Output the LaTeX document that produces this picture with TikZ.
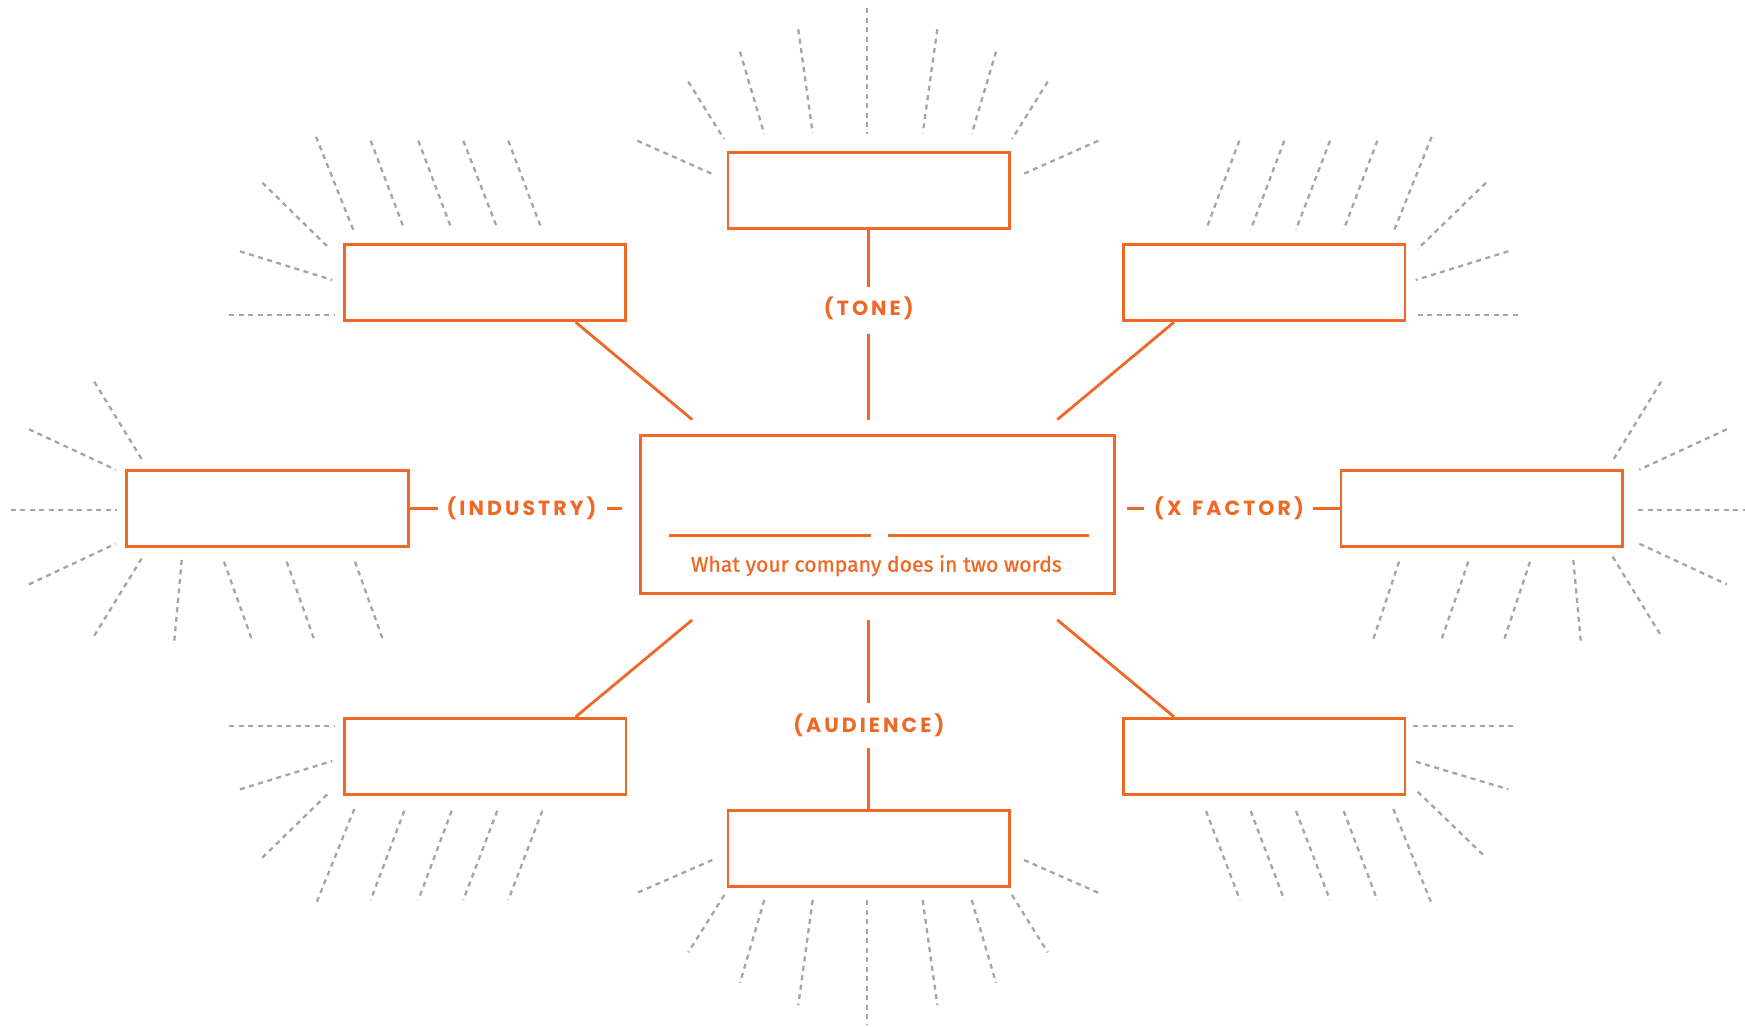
\documentclass[tikz,border=0pt]{standalone}
\usepackage{fontspec}
\setmainfont{Fira Sans}
\newfontfamily\lblfont{Poppins}[LetterSpace=15]
\newfontfamily\capfont{Fira Sans}[FakeBold=0.9]
\definecolor{brandorange}{RGB}{240,104,38}
\definecolor{raygray}{RGB}{165,165,165}
\begin{document}
\begin{tikzpicture}[x=1pt,y=-1pt,
  slot/.style={draw=brandorange,line width=2.8pt,minimum width=281.5pt,minimum height=76pt,inner sep=0pt},
  hub/.style={draw=brandorange,line width=2.8pt,minimum width=474pt,minimum height=158pt,inner sep=0pt},
  link/.style={draw=brandorange,line width=2.8pt},
  ray/.style={draw=raygray,line width=2.3pt,dash pattern=on 5pt off 4.5pt},
  lbl/.style={text=brandorange,font=\lblfont\bfseries\fontsize{20.5}{24}\selectfont,inner sep=0pt},
  captext/.style={text=brandorange,font=\capfont\fontsize{21.2}{25}\selectfont,inner sep=0pt}]
\useasboundingbox (0,0) rectangle (1745,1026);
\fill[white] (0,0) rectangle (1745,1026);

% boxes
\node[slot] (tone) at (868.8,190.2) {};
\node[slot] (ul) at (485,282.8) {};
\node[slot] (ur) at (1264.2,282.8) {};
\node[slot] (lft) at (267.5,508.5) {};
\node[slot] (rgt) at (1481.8,508.5) {};
\node[hub] (hub) at (877.2,514.8) {};
\node[slot] (ll) at (485.2,756.2) {};
\node[slot] (lr) at (1264.2,756.2) {};
\node[slot] (aud) at (868.8,848.8) {};

% labels
\node[lbl] (tonelbl) at (868.8,308) {(TONE)};
\node[lbl] (audlbl) at (868.8,725) {(AUDIENCE)};
\node[lbl] (indlbl) at (521.5,508.5) {(INDUSTRY)};
\node[lbl] (xflbl) at (1229,508.5) {(X\hspace{3pt} FACTOR)};
\node[captext,anchor=base] (captxt) at (876.3,571.7) {What your company does in two words};

% connector end points
\coordinate (tA) at (868.8,287);
\coordinate (tB) at (868.8,334);
\coordinate (tC) at (868.8,419.6);
\coordinate (aA) at (868.8,620);
\coordinate (aB) at (868.8,703);
\coordinate (aC) at (868.8,747.7);
\coordinate (iA) at (437.5,508.5);
\coordinate (iB) at (607,508.5);
\coordinate (iC) at (621.5,508.5);
\coordinate (xA) at (1127.4,508.5);
\coordinate (xB) at (1144,508.5);
\coordinate (xC) at (1313,508.5);
\coordinate (ulE) at (692.2,419.6);
\coordinate (urE) at (1057.3,419.6);
\coordinate (llE) at (692.2,619.9);
\coordinate (lrE) at (1057.3,619.9);
\coordinate (w1a) at (669.3,535.3);
\coordinate (w1b) at (871,535.3);
\coordinate (w2a) at (887.7,535.3);
\coordinate (w2b) at (1089.3,535.3);

% connectors
\draw[link] (tone.south) -- (tA);
\draw[link] (tB) -- (tC);
\draw[link] (aA) -- (aB);
\draw[link] (aC) -- (aud.north);
\draw[link] (lft.east) -- (iA);
\draw[link] (iB) -- (iC);
\draw[link] (xA) -- (xB);
\draw[link] (xC) -- (rgt.west);
\draw[link] ([xshift=90.7pt]ul.south) -- (ulE);
\draw[link] ([xshift=-90.2pt]ur.south) -- (urE);
\draw[link] ([xshift=90.5pt]ll.north) -- (llE);
\draw[link] ([xshift=-90.2pt]lr.north) -- (lrE);
\draw[link,line width=2.4pt] (w1a) -- (w1b);
\draw[link,line width=2.4pt] (w2a) -- (w2b);

% rays: tone
\draw[ray] (637.3,140.7)--(711.7,173.7);
\draw[ray] (688.3,81.7)--(724,139);
\draw[ray] (740,51.7)--(764.3,134);
\draw[ray] (798.3,29.3)--(812.7,133.3);
\draw[ray] (867.3,8.3)--(867.3,134.3);
\draw[ray] (937.3,29.3)--(922.7,133.3);
\draw[ray] (996,51.7)--(971.7,134);
\draw[ray] (1047.7,81.7)--(1012,139);
\draw[ray] (1098.3,140.7)--(1024,173.7);
% rays: upper left
\draw[ray] (316,136.7)--(354.3,232.3);
\draw[ray] (370.7,140.7)--(404.3,229.3);
\draw[ray] (418.3,140.7)--(451.7,229.3);
\draw[ray] (463.3,140.7)--(497.7,229.3);
\draw[ray] (508.3,140.7)--(541.7,229.3);
\draw[ray] (262.3,182.7)--(330,249);
\draw[ray] (240,251.3)--(332.3,280);
\draw[ray] (229.3,315.3)--(334.3,315.3);
% rays: upper right
\draw[ray] (1239.3,140.7)--(1206,229.7);
\draw[ray] (1284.3,140.7)--(1250.7,229.7);
\draw[ray] (1330,140.7)--(1296,229.7);
\draw[ray] (1377.3,140.7)--(1343.7,229.7);
\draw[ray] (1431.7,136.7)--(1393.3,232.3);
\draw[ray] (1486,182.7)--(1417.7,249);
\draw[ray] (1508.3,251.3)--(1415.7,280);
\draw[ray] (1517.7,315.3)--(1413.3,315.3);
% rays: left
\draw[ray] (94.3,381.7)--(142.7,460.7);
\draw[ray] (29,429.3)--(115.7,469.7);
\draw[ray] (10.7,510)--(116.7,510);
\draw[ray] (29,584.3)--(115.7,543.7);
\draw[ray] (94.3,635.7)--(142.7,556.7);
\draw[ray] (181.7,560)--(174.3,640.7);
\draw[ray] (224,561.7)--(251.7,639);
\draw[ray] (286.7,561.7)--(314,639);
\draw[ray] (355,561.7)--(382.7,639);
% rays: right
\draw[ray] (1661,381.7)--(1612.7,460.7);
\draw[ray] (1726.7,429.3)--(1639.3,469.7);
\draw[ray] (1638.3,510)--(1745,510);
\draw[ray] (1639.3,543.7)--(1726.7,584.3);
\draw[ray] (1612.7,556.7)--(1661,635.7);
\draw[ray] (1399,561.7)--(1373.3,639);
\draw[ray] (1468.3,561.7)--(1441.7,639);
\draw[ray] (1530,561.7)--(1504.3,639);
\draw[ray] (1573.3,560)--(1580.7,640.7);
% rays: lower left
\draw[ray] (229.3,725.7)--(334.3,725.7);
\draw[ray] (240,789.3)--(332.3,761);
\draw[ray] (262.3,857.7)--(330,791.7);
\draw[ray] (354.3,809)--(316,904);
\draw[ray] (404.3,810.7)--(370.7,900);
\draw[ray] (451.7,810.7)--(418.3,900);
\draw[ray] (497.3,810.7)--(463.3,900);
\draw[ray] (542.3,810.7)--(508.3,900);
% rays: lower right
\draw[ray] (1413.3,725.7)--(1517.7,725.7);
\draw[ray] (1416,761.7)--(1508.3,789.3);
\draw[ray] (1417.7,791.7)--(1486,857.7);
\draw[ray] (1206,811)--(1240,900);
\draw[ray] (1250.7,811)--(1284.3,900);
\draw[ray] (1296,811)--(1330,900);
\draw[ray] (1343.7,811)--(1377.3,900);
\draw[ray] (1393.3,809)--(1431.7,904);
% rays: audience
\draw[ray] (712.3,860)--(637.3,892.7);
\draw[ray] (724.3,895)--(688.3,952.3);
\draw[ray] (764.3,900)--(740,982.7);
\draw[ray] (812.7,900)--(798.3,1005);
\draw[ray] (867.3,900)--(867.3,1025);
\draw[ray] (922.7,900)--(937.3,1005);
\draw[ray] (971.7,900)--(996,982.7);
\draw[ray] (1012,895)--(1047.7,952.3);
\draw[ray] (1024,860)--(1098.3,892.7);
\end{tikzpicture}
\end{document}
